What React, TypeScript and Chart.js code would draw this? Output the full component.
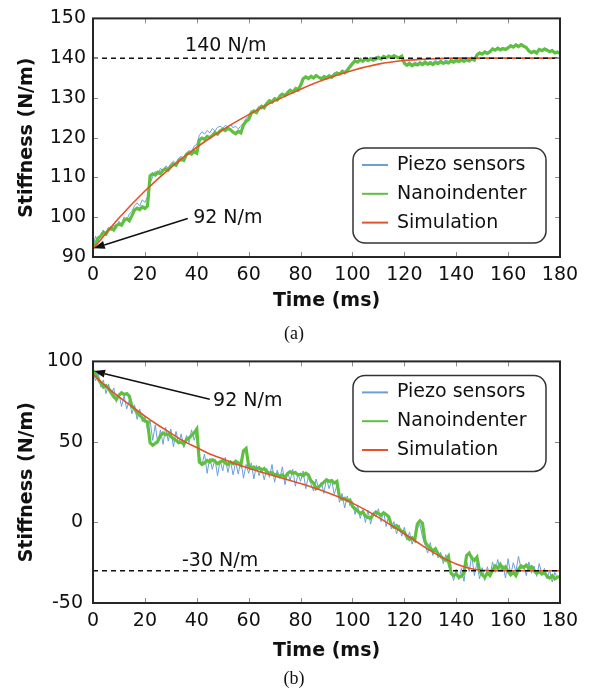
import React, { useEffect, useRef } from "react";
import { Chart, registerables } from "chart.js";

Chart.register(...registerables);

const FONT = "'DejaVu Sans', 'Bitstream Vera Sans', sans-serif";

// ---------- data ----------
const seriesLabels = ["Piezo sensors", "Nanoindenter", "Simulation"];
const xTicks = [0, 20, 40, 60, 80, 100, 120, 140, 160, 180];
const yTicksA = [90, 100, 110, 120, 130, 140, 150];
const yTicksB = [-50, 0, 50, 100];
const refLevelA = 140;
const refLevelB = -30;

const timeMs = [
  0, 1, 2, 3, 4, 5, 6, 7, 8, 9, 10, 11, 12, 13, 14, 15, 16, 17, 18, 19,
  20, 21, 22, 23, 24, 25, 26, 27, 28, 29, 30, 31, 32, 33, 34, 35, 36, 37, 38, 39,
  40, 41, 42, 43, 44, 45, 46, 47, 48, 49, 50, 51, 52, 53, 54, 55, 56, 57, 58, 59,
  60, 61, 62, 63, 64, 65, 66, 67, 68, 69, 70, 71, 72, 73, 74, 75, 76, 77, 78, 79,
  80, 81, 82, 83, 84, 85, 86, 87, 88, 89, 90, 91, 92, 93, 94, 95, 96, 97, 98, 99,
  100, 101, 102, 103, 104, 105, 106, 107, 108, 109, 110, 111, 112, 113, 114, 115, 116, 117, 118, 119,
  120, 121, 122, 123, 124, 125, 126, 127, 128, 129, 130, 131, 132, 133, 134, 135, 136, 137, 138, 139,
  140, 141, 142, 143, 144, 145, 146, 147, 148, 149, 150, 151, 152, 153, 154, 155, 156, 157, 158, 159,
  160, 161, 162, 163, 164, 165, 166, 167, 168, 169, 170, 171, 172, 173, 174, 175, 176, 177, 178, 179,
  180,
];

// (a) stiffness increase
const piezoA = [
  92.8, 95.2, 93.9, 95.6, 96.8, 95.4, 97.5, 96.6, 98.1, 97.2,
  99.0, 98.2, 100.1, 99.3, 100.8, 101.5, 102.9, 103.6, 102.8, 104.4,
  103.7, 105.2, 108.6, 110.2, 111.5, 110.7, 112.3, 111.6, 112.9, 112.4,
  113.5, 114.1, 113.6, 114.9, 115.3, 114.8, 116.1, 116.8, 116.4, 117.9,
  118.3, 120.6, 121.5, 120.9, 121.8, 121.2, 122.3, 121.7, 122.6, 122.9,
  122.4, 123.1, 122.7, 123.4, 122.5, 122.9, 122.2, 123.0, 123.6, 124.9,
  125.3, 126.8, 126.1, 127.2, 127.8, 127.1, 128.3, 128.9, 129.6, 129.2,
  130.1, 129.7, 130.9, 131.2, 130.8, 131.8, 132.3, 131.7, 132.8, 132.4,
  133.6, 135.1, 135.6, 135.0, 135.8, 135.3, 136.0, 135.4, 135.1, 135.7,
  135.4, 135.9, 135.5, 136.3, 136.6, 136.2, 137.1, 136.7, 137.4, 138.3,
  139.1, 139.7, 139.2, 140.1, 139.5, 140.3, 139.7, 140.2, 139.8, 140.4,
  140.5, 140.0, 140.8, 140.3, 140.7, 140.4, 140.9, 140.5, 140.3, 140.7,
  139.0, 138.6, 139.1, 138.5, 139.0, 138.7, 139.2, 138.8, 139.4, 138.9,
  139.2, 138.9, 139.5, 139.0, 139.6, 139.1, 139.5, 139.2, 139.8, 139.4,
  139.9, 139.5, 140.0, 139.7, 140.2, 139.8, 140.3, 140.0, 141.2, 141.6,
  141.3, 141.9, 141.5, 142.0, 142.6, 142.2, 142.8, 142.4, 142.7, 142.5,
  142.9, 143.4, 143.0, 143.6, 143.2, 143.7, 143.3, 142.9, 142.1, 141.7,
  142.0, 141.6, 142.5, 142.1, 142.6, 142.3, 141.9, 142.2, 141.6, 141.8,
  141.5,
];

const nanoA = [
  92.5, 93.4, 94.8, 95.3, 96.2, 95.8, 96.9, 97.3, 96.8, 97.9,
  98.3, 98.0, 99.2, 99.6, 99.1, 100.4, 101.8, 102.3, 101.9, 102.6,
  102.2, 102.8, 110.4, 110.9, 110.6, 111.3, 111.0, 111.8, 112.2, 111.9,
  112.8, 113.4, 113.1, 114.2, 114.6, 114.3, 115.8, 116.2, 115.9, 116.5,
  116.1, 119.4, 119.9, 119.6, 120.3, 120.0, 120.6, 121.3, 120.9, 121.7,
  122.1, 121.8, 122.4, 122.0, 121.4, 121.0, 121.6, 121.2, 123.2, 124.1,
  124.6, 126.2, 126.7, 126.3, 127.4, 127.9, 127.5, 128.6, 129.3, 129.0,
  129.8, 129.5, 130.4, 130.9, 130.6, 131.3, 131.9, 131.5, 132.2, 132.0,
  133.1, 134.8, 135.3, 134.9, 135.4, 135.0, 135.6, 135.2, 134.8, 135.3,
  135.0, 135.5, 135.2, 135.8, 136.2, 136.0, 136.6, 136.3, 136.9, 137.8,
  138.6, 139.3, 139.0, 139.6, 139.2, 139.8, 139.4, 139.9, 139.5, 139.8,
  140.2, 139.8, 140.4, 140.1, 140.5, 140.2, 140.6, 140.3, 140.1, 140.5,
  138.7, 138.2, 138.6, 138.1, 138.5, 138.3, 138.7, 138.4, 138.9, 138.5,
  138.8, 138.4, 138.9, 138.6, 139.1, 138.7, 139.0, 138.8, 139.3, 139.0,
  139.4, 139.1, 139.5, 139.2, 139.6, 139.3, 139.8, 139.5, 140.8, 141.3,
  141.0, 141.5, 141.2, 141.6, 142.3, 142.0, 142.5, 142.1, 142.4, 142.2,
  142.6, 143.1, 142.8, 143.3, 142.9, 143.4, 143.0, 142.7, 141.8, 141.4,
  141.7, 141.3, 142.2, 141.9, 142.3, 142.0, 141.6, 141.9, 141.3, 141.5,
  141.2,
];

const simTimeA = [0, 10, 20, 30, 40, 50, 60, 70, 80, 90, 100, 110, 120, 130, 140, 150, 160, 170, 180];
const simA = [92, 99.8, 106.6, 112.5, 117.6, 122.0, 125.8, 129.2, 132.2, 134.8, 136.9, 138.5, 139.4, 139.8, 140.0, 140.0, 140.0, 140.0, 140.0];

// (b) stiffness decrease
const piezoB = [
  92.0, 88.0, 93.0, 84.0, 88.5, 80.0, 86.0, 79.5, 83.5, 74.5,
  80.0, 72.0, 78.5, 70.5, 76.0, 67.5, 73.0, 64.0, 70.5, 62.5,
  66.0, 58.0, 63.5, 51.0, 60.5, 49.0, 57.5, 48.5, 59.0, 50.5,
  58.0, 47.0, 56.5, 49.0, 55.0, 46.5, 54.0, 49.5, 57.5, 51.0,
  56.0, 41.0, 36.0, 42.5, 30.5, 40.0, 33.0, 39.5, 29.0, 38.5,
  32.0, 40.5, 31.0, 38.0, 29.5, 37.5, 30.0, 39.0, 27.5, 36.0,
  30.5, 37.0, 27.0, 35.5, 29.0, 34.0, 26.5, 33.5, 28.0, 36.0,
  25.0, 32.5, 27.5, 34.5, 23.5, 31.0, 26.0, 33.0, 22.5, 30.0,
  25.5, 32.0, 21.0, 28.5, 24.0, 19.5, 27.0, 20.5, 25.0, 18.0,
  27.5, 21.0, 26.0, 17.5, 23.0, 12.5, 18.0, 9.0, 16.5, 10.5,
  13.0, 5.0, 10.5, 2.5, 8.0, 0.0, 7.5, -1.0, 6.0, 3.5,
  8.5, 0.5, 7.0, -2.5, 4.5, -4.0, 0.5, -7.0, -1.5, -8.5,
  -3.0, -11.0, -6.0, -13.5, -8.0, -3.5, -1.0, -9.0, -14.0, -19.0,
  -12.5, -20.5, -15.0, -22.0, -18.5, -25.5, -20.0, -27.0, -30.5, -36.0,
  -29.0, -35.5, -28.5, -36.5, -24.0, -30.5, -20.5, -33.0, -25.0, -35.0,
  -28.0, -36.0, -27.5, -33.5, -24.5, -31.0, -23.0, -30.0, -26.5, -34.5,
  -22.5, -32.5, -25.0, -30.5, -21.0, -29.0, -27.0, -33.0, -24.5, -31.5,
  -27.0, -33.5, -25.5, -32.0, -28.5, -35.0, -29.5, -37.0, -31.0, -34.5,
  -33.0,
];

const nanoB = [
  94.5, 92.0, 89.0, 86.5, 84.0, 85.0, 83.0, 80.5, 78.0, 76.5,
  79.0, 80.5, 79.5, 80.0, 78.5, 72.0, 70.5, 68.0, 66.5, 65.0,
  63.0, 62.5, 49.5, 48.0, 49.0, 50.5, 54.0, 55.5, 54.5, 55.0,
  53.5, 52.0, 51.0, 49.5, 50.0, 48.5, 51.5, 52.5, 54.0, 55.5,
  58.0, 37.5, 36.0, 37.0, 38.5, 37.5, 39.0, 38.0, 36.5, 37.5,
  38.5, 37.0, 36.0, 37.5, 36.5, 38.0, 37.0, 35.5, 44.5, 46.0,
  35.0, 33.5, 34.5, 33.0, 34.0, 32.5, 33.5, 31.5, 30.5, 31.0,
  29.5, 30.0, 28.5, 29.5, 28.0, 30.5, 31.5, 30.5, 31.0, 29.5,
  30.0, 29.0, 30.5, 29.5, 26.0, 24.5, 21.0, 22.0, 23.5, 25.0,
  26.5, 25.5, 26.0, 24.5, 25.5, 16.0, 14.5, 15.0, 13.5, 14.0,
  10.0, 8.5, 7.0, 5.5, 6.5, 4.0, 3.0, 2.5, 5.0, 6.5,
  5.5, 4.5, 6.0, 5.0, 3.5, -1.5, -3.0, -2.0, -4.0, -5.5,
  -6.0, -9.0, -10.5, -9.5, -11.0, -1.0, 1.0, -0.5, -12.0, -14.5,
  -16.0, -17.5, -16.5, -19.5, -21.0, -22.5, -23.5, -21.0, -31.5, -33.0,
  -32.0, -34.0, -33.5, -31.0, -20.5, -19.0, -22.0, -23.5, -21.5, -30.0,
  -32.5, -34.0, -31.5, -33.0, -29.5, -27.0, -28.5, -26.0, -29.0, -27.5,
  -30.5, -32.5, -31.0, -33.0, -29.0, -27.0, -28.0, -26.5, -28.5, -27.5,
  -30.0, -31.5, -30.5, -32.0, -31.0, -33.5, -34.5, -33.0, -35.0, -34.0,
  -33.5,
];

const simTimeB = [
  0, 5, 10, 15, 20, 25, 30, 35, 40, 45, 50, 55, 60, 65, 70, 75, 80, 85, 90,
  95, 100, 105, 110, 115, 120, 125, 130, 135, 140, 145, 150, 155, 160, 165, 170, 175, 180,
];
const simB = [
  92, 84.5, 78, 72, 66, 60.5, 55.5, 50.5, 46.5, 42.5, 39.5, 36.3, 33.7, 31.2, 28.8, 26.5, 24.2, 21.6, 18.8,
  15.6, 12, 7.8, 3.2, -1.8, -7, -12.3, -17.5, -22, -25.8, -28.4, -29.7, -30, -30, -30, -30, -30, -30,
];

// ---------- styling ----------
const COLORS = { piezo: "#6b9fd9", nano: "#5fc040", sim: "#e2522b", ref: "#111111" };

const overlayPlugin = {
  id: "overlay",
  afterDatasetsDraw(chart: any, _args: any, opts: any) {
    const { ctx, chartArea: ca, scales } = chart;
    const xs = scales.x;
    const ys = scales.y;
    ctx.save();

    // inward tick marks on all four sides
    ctx.strokeStyle = "#8c8c8c";
    ctx.lineWidth = 1;
    const L = 5;
    ctx.beginPath();
    xs.ticks.forEach((t: any) => {
      const px = Math.round(xs.getPixelForValue(t.value)) + 0.5;
      ctx.moveTo(px, ca.bottom);
      ctx.lineTo(px, ca.bottom - L);
      ctx.moveTo(px, ca.top);
      ctx.lineTo(px, ca.top + L);
    });
    ys.ticks.forEach((t: any) => {
      const py = Math.round(ys.getPixelForValue(t.value)) + 0.5;
      ctx.moveTo(ca.left, py);
      ctx.lineTo(ca.left + L, py);
      ctx.moveTo(ca.right, py);
      ctx.lineTo(ca.right - L, py);
    });
    ctx.stroke();

    // frame
    ctx.strokeStyle = "#262626";
    ctx.lineWidth = 2;
    ctx.strokeRect(ca.left, ca.top, ca.right - ca.left, ca.bottom - ca.top);

    // arrows
    ctx.strokeStyle = "#111";
    ctx.fillStyle = "#111";
    ctx.lineWidth = 1.6;
    (opts.arrows || []).forEach((a: any) => {
      const x1 = xs.getPixelForValue(a.from[0]);
      const y1 = ys.getPixelForValue(a.from[1]);
      const x2 = xs.getPixelForValue(a.to[0]);
      const y2 = ys.getPixelForValue(a.to[1]);
      const ang = Math.atan2(y2 - y1, x2 - x1);
      const hl = 11;
      const hw = 4;
      const bx = x2 - hl * Math.cos(ang);
      const by = y2 - hl * Math.sin(ang);
      ctx.beginPath();
      ctx.moveTo(x1, y1);
      ctx.lineTo(bx, by);
      ctx.stroke();
      ctx.beginPath();
      ctx.moveTo(x2, y2);
      ctx.lineTo(bx + hw * Math.sin(ang), by - hw * Math.cos(ang));
      ctx.lineTo(bx - hw * Math.sin(ang), by + hw * Math.cos(ang));
      ctx.closePath();
      ctx.fill();
    });

    // text annotations
    ctx.font = `19px ${FONT}`;
    ctx.textBaseline = "middle";
    ctx.textAlign = "left";
    ctx.fillStyle = "#111";
    (opts.texts || []).forEach((t: any) => {
      ctx.fillText(t.text, xs.getPixelForValue(t.x), ys.getPixelForValue(t.y));
    });

    // legend box
    const lg = opts.legend;
    if (lg) {
      const w = lg.width;
      const h = lg.height;
      const left = ca.right - lg.inset - w;
      const top = lg.corner === "bottom" ? ca.bottom - lg.inset - h : ca.top + lg.inset;
      ctx.beginPath();
      ctx.roundRect(left, top, w, h, 12);
      ctx.fillStyle = "#ffffff";
      ctx.fill();
      ctx.strokeStyle = "#333";
      ctx.lineWidth = 1.5;
      ctx.stroke();
      const items = chart.data.datasets.filter((d: any) => d.label);
      items.forEach((d: any, i: number) => {
        const cy = top + 17 + i * 28.8;
        ctx.strokeStyle = d.borderColor;
        ctx.lineWidth = 2;
        ctx.beginPath();
        ctx.moveTo(left + 9, cy);
        ctx.lineTo(left + 35, cy);
        ctx.stroke();
        ctx.fillStyle = "#111";
        ctx.font = `19px ${FONT}`;
        ctx.fillText(d.label, left + 44, cy);
      });
    }
    ctx.restore();
  },
};

function buildConfig(p: {
  piezo: number[];
  nano: number[];
  simT: number[];
  sim: number[];
  ref: number;
  yMin: number;
  yMax: number;
  yTicks: number[];
  padTop: number;
  xAxisHeight: number;
  titleBottom: number;
  yLabelPad: number;
  overlay: any;
}) {
  const tickFont = { family: FONT, size: 19 };
  const titleFont = { family: FONT, size: 19, weight: "bold" as const };
  return {
    type: "line" as const,
    data: {
      datasets: [
        {
          label: seriesLabels[0],
          data: timeMs.map((t, i) => ({ x: t, y: p.piezo[i] })),
          borderColor: COLORS.piezo,
          borderWidth: 1,
          pointRadius: 0,
          order: 4,
        },
        {
          label: seriesLabels[1],
          data: timeMs.map((t, i) => ({ x: t, y: p.nano[i] })),
          borderColor: COLORS.nano,
          borderWidth: 3.2,
          pointRadius: 0,
          order: 3,
        },
        {
          label: seriesLabels[2],
          data: p.simT.map((t, i) => ({ x: t, y: p.sim[i] })),
          borderColor: COLORS.sim,
          borderWidth: 1.6,
          pointRadius: 0,
          cubicInterpolationMode: "monotone" as const,
          order: 2,
        },
        {
          label: "",
          data: [
            { x: xTicks[0], y: p.ref },
            { x: xTicks[xTicks.length - 1], y: p.ref },
          ],
          borderColor: COLORS.ref,
          borderWidth: 1.5,
          borderDash: [5, 4],
          pointRadius: 0,
          order: 1,
        },
      ],
    },
    options: {
      animation: false as const,
      responsive: false,
      devicePixelRatio: 1,
      layout: { padding: { top: p.padTop, right: 37, bottom: 0, left: 0 } },
      plugins: {
        legend: { display: false },
        tooltip: { enabled: false },
        overlay: p.overlay,
      },
      scales: {
        x: {
          type: "linear" as const,
          min: xTicks[0],
          max: xTicks[xTicks.length - 1],
          grid: { display: false, drawTicks: false },
          border: { display: false },
          ticks: { font: tickFont, color: "#111", padding: 7, maxRotation: 0, autoSkip: false },
          afterBuildTicks: (s: any) => {
            s.ticks = xTicks.map((v) => ({ value: v }));
          },
          afterFit: (s: any) => {
            s.height = p.xAxisHeight;
          },
          title: {
            display: true,
            text: "Time (ms)",
            font: titleFont,
            color: "#111",
            padding: { top: 0, bottom: p.titleBottom },
          },
        },
        y: {
          type: "linear" as const,
          min: p.yMin,
          max: p.yMax,
          grid: { display: false, drawTicks: false },
          border: { display: false },
          ticks: { font: tickFont, color: "#111", padding: p.yLabelPad, autoSkip: false },
          afterBuildTicks: (s: any) => {
            s.ticks = p.yTicks.map((v) => ({ value: v }));
          },
          afterFit: (s: any) => {
            s.width = 93;
          },
          title: {
            display: true,
            text: "Stiffness (N/m)",
            font: titleFont,
            color: "#111",
            padding: { top: 16, bottom: 0 },
          },
        },
      },
    },
    plugins: [overlayPlugin],
  };
}

export default function App() {
  const canvasA = useRef<HTMLCanvasElement>(null);
  const canvasB = useRef<HTMLCanvasElement>(null);

  useEffect(() => {
    const chartA = new Chart(
      canvasA.current as HTMLCanvasElement,
      buildConfig({
        piezo: piezoA,
        nano: nanoA,
        simT: simTimeA,
        sim: simA,
        ref: refLevelA,
        yMin: yTicksA[0],
        yMax: yTicksA[yTicksA.length - 1],
        yTicks: yTicksA,
        padTop: 15,
        xAxisHeight: 83,
        titleBottom: 27.6,
        yLabelPad: 7,
        overlay: {
          texts: [
            { text: "140 N/m", x: 35.5, y: 143.1 },
            { text: "92 N/m", x: 38.6, y: 99.9 },
          ],
          arrows: [{ from: [36.5, 99.7], to: [0.3, 92.2] }],
          legend: { corner: "bottom", inset: 14, width: 193, height: 95 },
        },
      }) as any
    );
    const chartB = new Chart(
      canvasB.current as HTMLCanvasElement,
      buildConfig({
        piezo: piezoB,
        nano: nanoB,
        simT: simTimeB,
        sim: simB,
        ref: refLevelB,
        yMin: yTicksB[0],
        yMax: yTicksB[yTicksB.length - 1],
        yTicks: yTicksB,
        padTop: 18,
        xAxisHeight: 93,
        titleBottom: 33.6,
        yLabelPad: 10,
        overlay: {
          texts: [
            { text: "92 N/m", x: 46.3, y: 75.5 },
            { text: "-30 N/m", x: 34.3, y: -23.7 },
          ],
          arrows: [{ from: [45, 76.5], to: [0.4, 94] }],
          legend: { corner: "top", inset: 14, width: 193, height: 96 },
        },
      }) as any
    );
    return () => {
      chartA.destroy();
      chartB.destroy();
    };
  }, []);

  const caption: React.CSSProperties = {
    position: "absolute",
    left: 264,
    width: 60,
    height: 22,
    lineHeight: "22px",
    textAlign: "center",
    fontFamily: "'Liberation Serif', 'Times New Roman', serif",
    fontSize: 18,
    color: "#111",
  };

  return (
    <div style={{ position: "fixed", left: 0, top: 0, width: 597, height: 696, background: "#fff" }}>
      <canvas
        ref={canvasA}
        width={597}
        height={340}
        style={{ position: "absolute", left: 0, top: 0, width: 597, height: 340 }}
      />
      <canvas
        ref={canvasB}
        width={597}
        height={356}
        style={{ position: "absolute", left: 0, top: 340, width: 597, height: 356 }}
      />
      <div style={{ ...caption, top: 322 }}>(a)</div>
      <div style={{ ...caption, top: 667 }}>(b)</div>
    </div>
  );
}
